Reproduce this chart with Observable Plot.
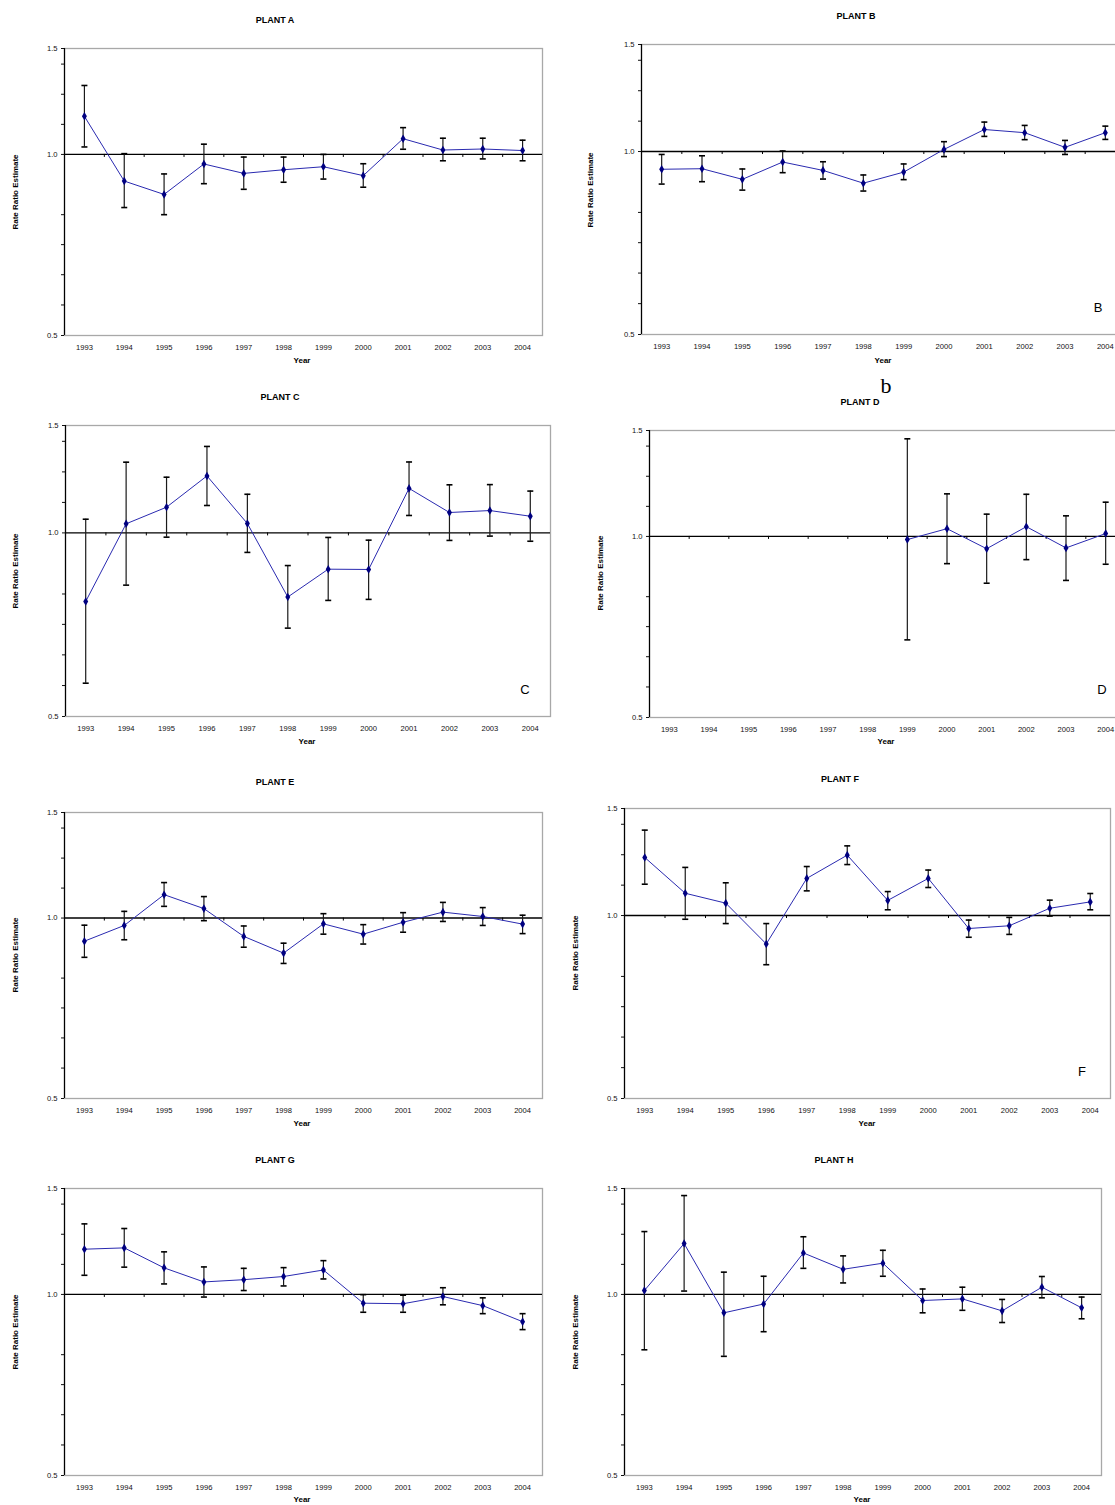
<!DOCTYPE html>
<html><head><meta charset="utf-8">
<script src="https://cdn.jsdelivr.net/npm/d3@7"></script>
<script src="https://cdn.jsdelivr.net/npm/@observablehq/plot@0.6"></script>
<style>
html,body{margin:0;padding:0;background:#fff;}
body{width:1115px;height:1505px;position:relative;overflow:hidden;font-family:'Liberation Sans',Arial,sans-serif;}
.lbl{position:absolute;white-space:nowrap;line-height:1;transform:translate(-50%,-50%);color:#000;}
.panel{position:absolute;}
.panel svg{overflow:visible;max-width:none !important;}
</style></head><body>
<script>
// ---- data ----
const years = [1993,1994,1995,1996,1997,1998,1999,2000,2001,2002,2003,2004];
const yTicks = [0.5, 1.0, 1.5];
const yMinorTicks = [1.413, 1.259, 1.122, 0.794, 0.708, 0.631, 0.562];

const estA = [1.157,0.903,0.858,0.964,0.930,0.943,0.954,0.922,1.062,1.017,1.021,1.015];
const loA  = [1.029,0.816,0.794,0.894,0.875,0.899,0.910,0.882,1.020,0.976,0.983,0.976];
const hiA  = [1.302,1.003,0.928,1.040,0.990,0.990,1.000,0.965,1.108,1.064,1.064,1.056];

const estB = [0.935,0.937,0.900,0.961,0.931,0.887,0.925,1.008,1.087,1.074,1.016,1.074];
const loB  = [0.884,0.892,0.864,0.923,0.901,0.861,0.899,0.981,1.059,1.046,0.989,1.047];
const hiB  = [0.989,0.984,0.936,1.002,0.962,0.915,0.954,1.038,1.118,1.104,1.043,1.101];

const estC = [0.772,1.035,1.102,1.240,1.036,0.785,0.872,0.871,1.183,1.080,1.088,1.065];
const loC  = [0.567,0.821,0.984,1.109,0.929,0.698,0.775,0.778,1.068,0.972,0.988,0.969];
const hiC  = [1.053,1.306,1.234,1.386,1.157,0.884,0.983,0.973,1.307,1.199,1.200,1.171];

const estD = [null,null,null,null,null,null,0.988,1.030,0.954,1.038,0.957,1.011];
const loD  = [null,null,null,null,null,null,0.673,0.901,0.836,0.915,0.845,0.899];
const hiD  = [null,null,null,null,null,null,1.453,1.177,1.089,1.175,1.082,1.140];

const estE = [0.915,0.972,1.094,1.037,0.932,0.874,0.978,0.940,0.984,1.023,1.006,0.977];
const loE  = [0.860,0.920,1.046,0.990,0.894,0.840,0.940,0.905,0.947,0.987,0.972,0.942];
const hiE  = [0.973,1.026,1.146,1.086,0.970,0.908,1.017,0.975,1.021,1.062,1.041,1.011];

const estF = [1.246,1.088,1.048,0.898,1.151,1.257,1.059,1.151,0.952,0.962,1.028,1.053];
const loF  = [1.126,0.986,0.970,0.830,1.098,1.213,1.022,1.112,0.921,0.931,0.998,1.022];
const hiF  = [1.382,1.200,1.132,0.970,1.204,1.302,1.095,1.188,0.983,0.993,1.060,1.087];

const estG = [1.189,1.195,1.107,1.049,1.058,1.071,1.098,0.967,0.965,0.992,0.958,0.901];
const loG  = [1.076,1.110,1.041,0.990,1.015,1.033,1.061,0.934,0.934,0.961,0.929,0.874];
const hiG  = [1.310,1.287,1.177,1.111,1.105,1.108,1.138,0.999,0.997,1.026,0.987,0.929];

const estH = [1.015,1.215,0.932,0.964,1.172,1.101,1.127,0.977,0.983,0.939,1.028,0.950];
const loH  = [0.809,1.013,0.789,0.867,1.105,1.045,1.072,0.932,0.941,0.898,0.987,0.911];
const hiH  = [1.272,1.460,1.089,1.072,1.247,1.159,1.184,1.021,1.028,0.981,1.071,0.990];

const titles = ["PLANT A","PLANT B","PLANT C","PLANT D","PLANT E","PLANT F","PLANT G","PLANT H"];
const letters = [null,"B","C","D",null,"F",null,null];
const yTitle = "Rate Ratio Estimate";
const xTitle = "Year";

// ---- layout (page pixels) ----
const layouts = [
  {col:0,   fl:64,  fr:542,  ft:48,  fb:335,  tx:275, ty:20,  yx:16,  yy:192,  ax:302, ay:361,  lx:null, ly:null},
  {col:560, fl:641, fr:1125, ft:44,  fb:334,  tx:856, ty:16,  yx:591, yy:190,  ax:883, ay:361,  lx:1098, ly:307},
  {col:0,   fl:65,  fr:550,  ft:425, fb:716,  tx:280, ty:397, yx:16,  yy:571,  ax:307, ay:742,  lx:525, ly:689},
  {col:560, fl:649, fr:1125, ft:430, fb:717,  tx:860, ty:402, yx:601, yy:573,  ax:886, ay:742,  lx:1102, ly:689},
  {col:0,   fl:64,  fr:542,  ft:812, fb:1098, tx:275, ty:782, yx:16,  yy:955,  ax:302, ay:1124, lx:null, ly:null},
  {col:560, fl:624, fr:1110, ft:808, fb:1098, tx:840, ty:779, yx:576, yy:953,  ax:867, ay:1124, lx:1082, ly:1071},
  {col:0,   fl:64,  fr:542,  ft:1188,fb:1475, tx:275, ty:1160,yx:16,  yy:1332, ax:302, ay:1500, lx:null, ly:null},
  {col:560, fl:624, fr:1101, ft:1188,fb:1475, tx:834, ty:1160,yx:576, yy:1332, ax:862, ay:1500, lx:null, ly:null}
];

const cap = {draw(ctx, size) { const w = Math.sqrt(size / Math.PI); ctx.moveTo(-w, 0); ctx.lineTo(w, 0); }};
const xDomain = [years[0] - 0.5, years[years.length - 1] + 0.5];
const bounds = years.slice(0, -1).map(y => y + 0.5);

function addLabel(text, x, y, css, rotate) {
  const d = document.createElement("div");
  d.className = "lbl";
  d.textContent = text;
  Object.assign(d.style, css);
  d.style.left = x + "px"; d.style.top = y + "px";
  if (rotate) d.style.transform = "translate(-50%,-50%) rotate(-90deg)";
  document.body.appendChild(d);
}

function panel(L, est, lo, hi, idx) {
  const rows = years.map((year, i) => ({year, est: est[i], lo: lo[i], hi: hi[i]})).filter(d => d.est != null);
  const mt = 10, mb = 45, mr = 20;
  const width = L.fr + mr - L.col;
  const height = L.fb - L.ft + mt + mb;
  const chart = Plot.plot({
    width, height,
    marginLeft: L.fl - L.col, marginRight: mr, marginTop: mt, marginBottom: mb,
    x: {type: "linear", domain: xDomain},
    y: {type: "log", domain: [0.5, 1.5]},
    style: {fontFamily: "'Liberation Sans', Arial, sans-serif", fontSize: "7.6px", color: "#111", background: "transparent", maxWidth: "none"},
    marks: [
      Plot.frame({stroke: "#a8a8a8", strokeWidth: 1.3}),
      Plot.axisY({ticks: yMinorTicks, tickSize: 3, tickFormat: () => "", label: null}),
      Plot.axisY({ticks: yTicks, tickSize: 3, tickPadding: 4, tickFormat: d => d.toFixed(1), label: null}),
      Plot.axisX({ticks: years, tickSize: 0, tickPadding: 9, tickFormat: d => String(d), label: null}),
      Plot.ruleX([xDomain[0]], {stroke: "#000", strokeWidth: 1.2}),
      Plot.ruleY([1], {stroke: "#000", strokeWidth: 1.4}),
      Plot.ruleX(bounds, {x: d => d, y1: 1, y2: 1, insetBottom: -3, stroke: "#000"}),
      Plot.ruleX(rows, {x: "year", y1: "lo", y2: "hi", stroke: "#1a1a1a", strokeWidth: 1.2}),
      Plot.dot(rows, {x: "year", y: "hi", symbol: cap, r: 3, fill: "none", stroke: "#000", strokeWidth: 1.6}),
      Plot.dot(rows, {x: "year", y: "lo", symbol: cap, r: 3, fill: "none", stroke: "#000", strokeWidth: 1.6}),
      Plot.line(rows, {x: "year", y: "est", stroke: "#2a2ab0", strokeWidth: 1}),
      Plot.dot(rows, {x: "year", y: "est", symbol: "diamond", r: 2.6, fill: "#000080", stroke: "none"})
    ]
  });
  chart.style.maxWidth = "none";
  const wrap = document.createElement("div");
  wrap.className = "panel";
  wrap.style.left = L.col + "px";
  wrap.style.top = (L.ft - mt) + "px";
  wrap.style.width = width + "px";
  wrap.style.height = height + "px";
  wrap.appendChild(chart);
  document.body.appendChild(wrap);

  addLabel(titles[idx], L.tx, L.ty, {fontSize: "9px", fontWeight: "bold"});
  addLabel(yTitle, L.yx, L.yy, {fontSize: "8px", fontWeight: "bold"}, true);
  addLabel(xTitle, L.ax, L.ay, {fontSize: "8px", fontWeight: "bold"});
  if (letters[idx]) addLabel(letters[idx], L.lx, L.ly, {fontSize: "13px"});
}

const ests = [estA, estB, estC, estD, estE, estF, estG, estH];
const los = [loA, loB, loC, loD, loE, loF, loG, loH];
const his = [hiA, hiB, hiC, hiD, hiE, hiF, hiG, hiH];
layouts.forEach((L, i) => panel(L, ests[i], los[i], his[i], i));

addLabel("b", 886, 386, {fontSize: "22px", fontFamily: "'Liberation Serif', 'Times New Roman', serif"});
</script>
</body></html>
